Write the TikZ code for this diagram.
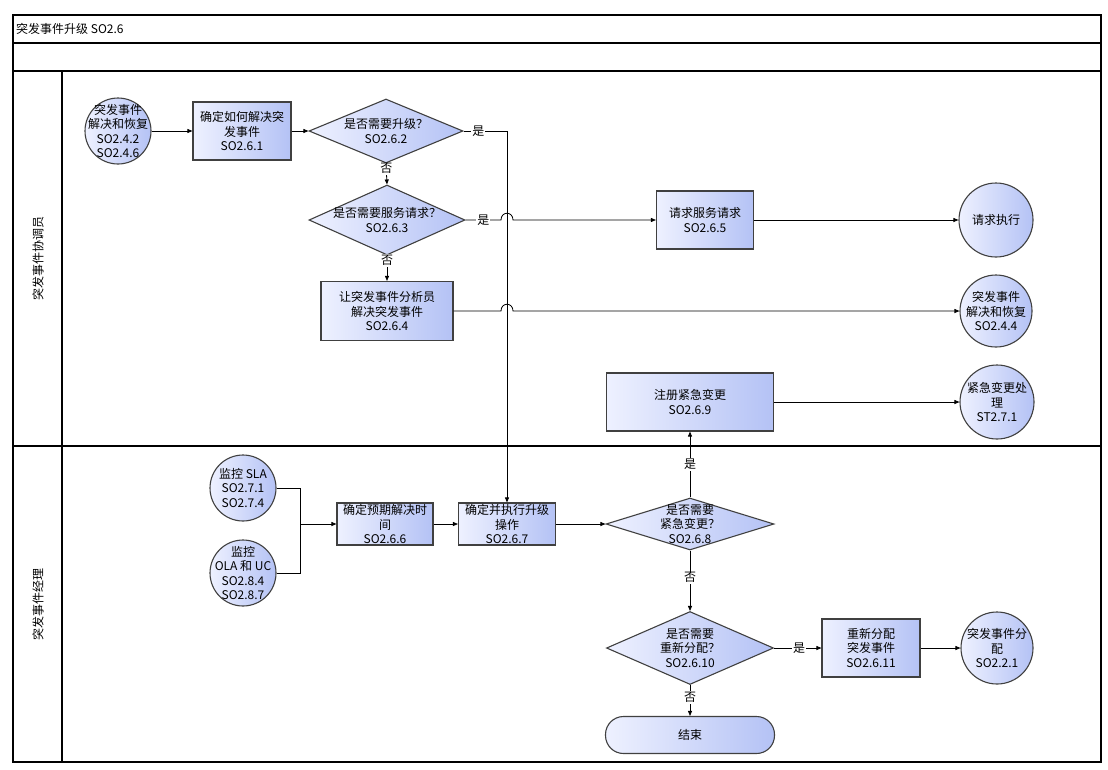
\documentclass[tikz,border=0pt]{standalone}
\usepackage{fontspec}
\setmainfont{Noto Sans CJK SC}
\usetikzlibrary{shapes.geometric,arrows.meta,calc}
\definecolor{lite}{HTML}{EEF1FF}
\definecolor{dark}{HTML}{B4C2F5}
\definecolor{edge}{HTML}{404040}
\begin{document}
\begin{tikzpicture}[x=1pt,y=-1pt,
  font=\fontsize{12}{14.5}\selectfont,
  fillshade/.style={draw=edge, line width=1.1pt, left color=lite, right color=dark},
  box/.style={fillshade, rectangle, align=center, inner sep=1pt},
  rnd/.style={fillshade, circle, inner sep=0pt},
  dia/.style={fillshade, diamond, inner sep=0pt},
  txt/.style={align=center, inner sep=0pt, text=black, draw=none},
  conn/.style={line width=0.8pt, -{Triangle[length=5pt,width=4pt]}},
  plain/.style={line width=0.8pt},
  yn/.style={fill=white, inner sep=1pt},
  frame/.style={line width=1.1pt}
]
\useasboundingbox (0,0) rectangle (1108,769);
% frame
\draw[frame] (13,15) rectangle (1101,762);
\draw[frame] (13,43) -- (1101,43);
\draw[frame] (13,71) -- (1101,71);
\draw[frame] (13,446) -- (1101,446);
\draw[frame] (62,71) -- (62,762);
\node[anchor=west, inner sep=0pt] (title) at (16,29) {突发事件升级 SO2.6};
\node[rotate=90] (lane1) at (38,258) {突发事件协调员};
\node[rotate=90] (lane2) at (38,604) {突发事件经理};

% top lane
\node[rnd, minimum size=66, label={[txt]center:{突发事件\\解决和恢复\\SO2.4.2\\SO2.4.6}}] (c1) at (118,131) {};
\node[box, minimum width=98, minimum height=58] (b1) at (242,131) {确定如何解决突\\发事件\\SO2.6.1};
\node[dia, minimum width=154, minimum height=64, label={[txt]center:{是否需要升级？\\SO2.6.2}}] (d1) at (386,131) {};
\node[dia, minimum width=156, minimum height=70, label={[txt]center:{是否需要服务请求？\\SO2.6.3}}] (d2) at (387,220) {};
\node[box, minimum width=132, minimum height=59] (b4) at (387,311) {让突发事件分析员\\解决突发事件\\SO2.6.4};
\node[box, minimum width=97, minimum height=58] (b5) at (705,220) {请求服务请求\\SO2.6.5};
\node[rnd, minimum size=74, label={[txt]center:{请求执行}}] (c3) at (996,220) {};
\node[rnd, minimum size=72, label={[txt]center:{突发事件\\解决和恢复\\SO2.4.4}}] (c4) at (996,311) {};
\node[box, minimum width=167, minimum height=58] (b9) at (690,402) {注册紧急变更\\SO2.6.9};
\node[rnd, minimum size=74, label={[txt]center:{紧急变更处\\理\\ST2.7.1}}] (c5) at (997,402) {};

% bottom lane
\node[rnd, minimum size=66, label={[txt]center:{监控 SLA\\SO2.7.1\\SO2.7.4}}] (c6) at (243,488) {};
\node[rnd, minimum size=66, label={[txt]center:{监控\\OLA 和 UC\\SO2.8.4\\SO2.8.7}}] (c7) at (243,573) {};
\node[box, minimum width=96, minimum height=42] (b6) at (385,524) {确定预期解决时\\间\\SO2.6.6};
\node[box, minimum width=97, minimum height=42] (b7) at (507,524) {确定并执行升级\\操作\\SO2.6.7};
\node[dia, minimum width=168, minimum height=52, label={[txt]center:{是否需要\\紧急变更？\\SO2.6.8}}] (d8) at (690,524) {};
\node[dia, minimum width=167, minimum height=73, label={[txt]center:{是否需要\\重新分配？\\SO2.6.10}}] (d10) at (690,648) {};
\node[box, minimum width=98, minimum height=58] (b11) at (871,648) {重新分配\\突发事件\\SO2.6.11};
\node[rnd, minimum size=72, label={[txt]center:{突发事件分\\配\\SO2.2.1}}] (c8) at (997,648) {};
\node[box, rounded corners=18pt, minimum width=169, minimum height=37] (end) at (690,735) {结束};

% hop coordinates
\coordinate (h1a) at ($(d2.east -| b7.north)+(-6,0)$);
\coordinate (h1b) at ($(d2.east -| b7.north)+(6,0)$);
\coordinate (h2a) at ($(b4.east -| b7.north)+(-6,0)$);
\coordinate (h2b) at ($(b4.east -| b7.north)+(6,0)$);
\coordinate (j) at ($(b6.west)+(-36,0)$);

% connectors
\draw[conn] (c1) -- (b1);
\draw[conn] (b1) -- (d1);
\draw[conn] (d1.east) -- node[yn, pos=0.34]{是} (d1.east -| b7.north) -- (b7.north);
\draw[conn] (d1.south) -- node[yn, pos=0.25]{否} (d2.north);
\draw[conn] (d2.east) -- node[yn]{是} (h1a) .. controls ($(h1a)+(0,-9)$) and ($(h1b)+(0,-9)$) .. (h1b) -- (b5.west);
\draw[conn] (d2.south) -- node[yn, pos=0.2]{否} (b4.north);
\draw[conn] (b4.east) -- (h2a) .. controls ($(h2a)+(0,-9)$) and ($(h2b)+(0,-9)$) .. (h2b) -- (c4.west);
\draw[conn] (b5) -- (c3);
\draw[conn] (b9) -- (c5);
\draw[plain] (c6.east) -| (j);
\draw[plain] (c7.east) -| (j);
\draw[conn] (j) -- (b6.west);
\draw[conn] (b6) -- (b7);
\draw[conn] (b7) -- (d8);
\draw[conn] (d8.north) -- node[yn]{是} (b9.south);
\draw[conn] (d8.south) -- node[yn, pos=0.45]{否} (d10.north);
\draw[conn] (d10.east) -- node[yn, pos=0.53]{是} (b11.west);
\draw[conn] (b11) -- (c8);
\draw[conn] (d10.south) -- node[yn, pos=0.4]{否} (end.north);
\end{tikzpicture}
\end{document}
